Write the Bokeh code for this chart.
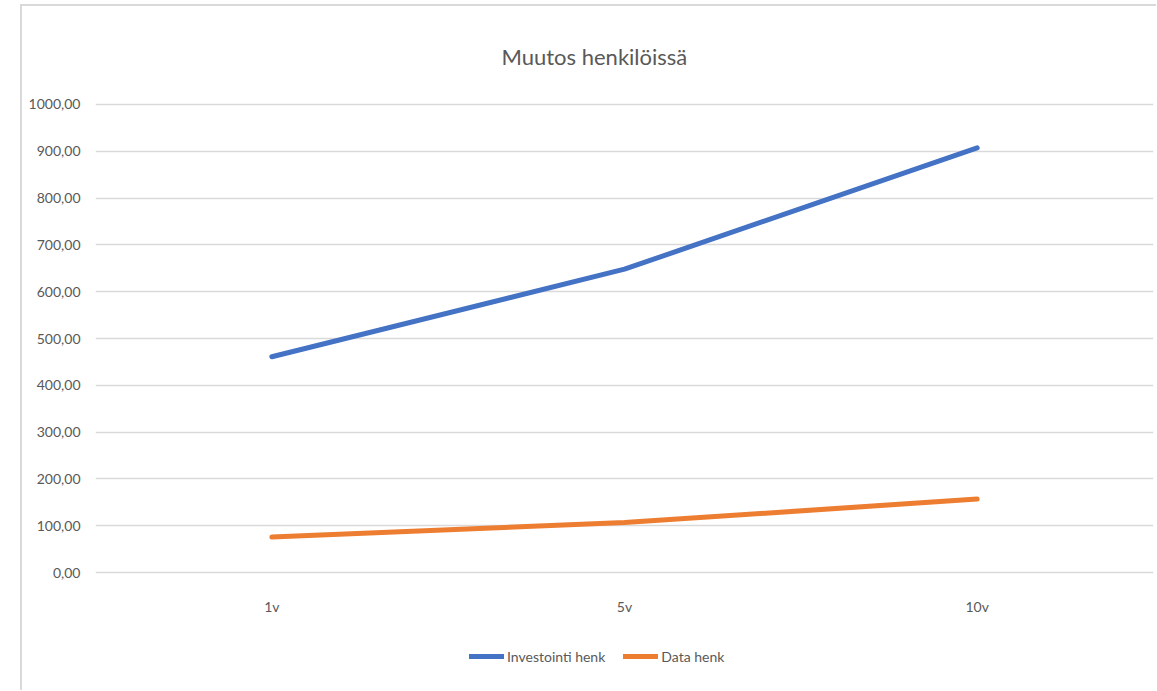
from bokeh.plotting import figure
from bokeh.models import Legend, LegendItem, FixedTicker, Spacer
from bokeh.layouts import row, column
from bokeh.embed import file_html
from bokeh.resources import INLINE

categories = ["1v", "5v", "10v"]
investointi = [461, 648, 907]
data_henk = [76, 107, 157]
y_ticks = [0, 100, 200, 300, 400, 500, 600, 700, 800, 900, 1000]
y_tick_labels = ["0,00", "100,00", "200,00", "300,00", "400,00", "500,00",
                 "600,00", "700,00", "800,00", "900,00", "1000,00"]
title_text = "Muutos henkilöissä"
series_names = ["Investointi henk", "Data henk"]
colors = ["#4472C4", "#ED7D31"]

FONT = "Lato"
GREY = "#595959"
BORDER = "2px solid #d9d9d9"

p = figure(x_range=categories, y_range=(-4, 1004), width=1136, height=625,
           output_backend="svg", toolbar_location=None,
           min_border_left=73, min_border_right=5, min_border_top=96,
           min_border_bottom=57)
p.styles = {"border-left": BORDER, "border-top": BORDER}
p.outline_line_color = None
p.background_fill_color = "white"
p.border_fill_color = "white"

p.line(categories, investointi, line_color=colors[0], line_width=5,
       line_cap="round", line_join="round")
p.line(categories, data_henk, line_color=colors[1], line_width=5,
       line_cap="round", line_join="round")

p.yaxis.ticker = FixedTicker(ticks=y_ticks)
p.yaxis.major_label_overrides = {t: l for t, l in zip(y_ticks, y_tick_labels)}
for ax in (p.xaxis[0], p.yaxis[0]):
    ax.axis_line_color = None
    ax.major_tick_line_color = None
    ax.minor_tick_line_color = None
    ax.major_tick_out = 0
    ax.major_tick_in = 0
    ax.major_label_text_font = FONT
    ax.major_label_text_font_size = "14px"
    ax.major_label_text_color = GREY
p.yaxis.major_label_standoff = 15
p.xaxis.major_label_standoff = 23

p.xgrid.grid_line_color = None
p.ygrid.grid_line_color = "#d9d9d9"
p.ygrid.grid_line_width = 1.5

p.title.text = title_text
p.title.align = "left"
p.title.offset = 406
p.title.standoff = 66
p.title.text_font = FONT
p.title.text_font_style = "normal"
p.title.text_font_size = "22px"
p.title.text_color = GREY

# legend strip below the chart (proxy renderers hold no visible data)
nan = float("nan")
p2 = figure(width=1136, height=61, output_backend="svg", toolbar_location=None,
            x_axis_location=None, y_axis_location=None, min_border=0)
p2.styles = {"border-left": BORDER}
p2.outline_line_color = None
p2.xgrid.grid_line_color = None
p2.ygrid.grid_line_color = None
l1 = p2.line([nan], [nan], line_color=colors[0], line_width=5, line_cap="round")
l2 = p2.line([nan], [nan], line_color=colors[1], line_width=5, line_cap="round")
legend = Legend(items=[LegendItem(label=series_names[0], renderers=[l1]),
                       LegendItem(label=series_names[1], renderers=[l2])],
                orientation="horizontal", location=(374, 24))
legend.border_line_color = None
legend.background_fill_alpha = 0
legend.label_text_font = FONT
legend.label_text_font_size = "14px"
legend.label_text_color = GREY
legend.glyph_width = 35
legend.label_standoff = 3
legend.spacing = 18
legend.margin = 0
legend.padding = 0
p2.add_layout(legend, "center")

layout = column(Spacer(height=4, width=10),
                row(Spacer(width=20, height=10), column(p, p2, spacing=0), spacing=0),
                spacing=0)
open("out.html", "w").write(file_html(layout, INLINE))
